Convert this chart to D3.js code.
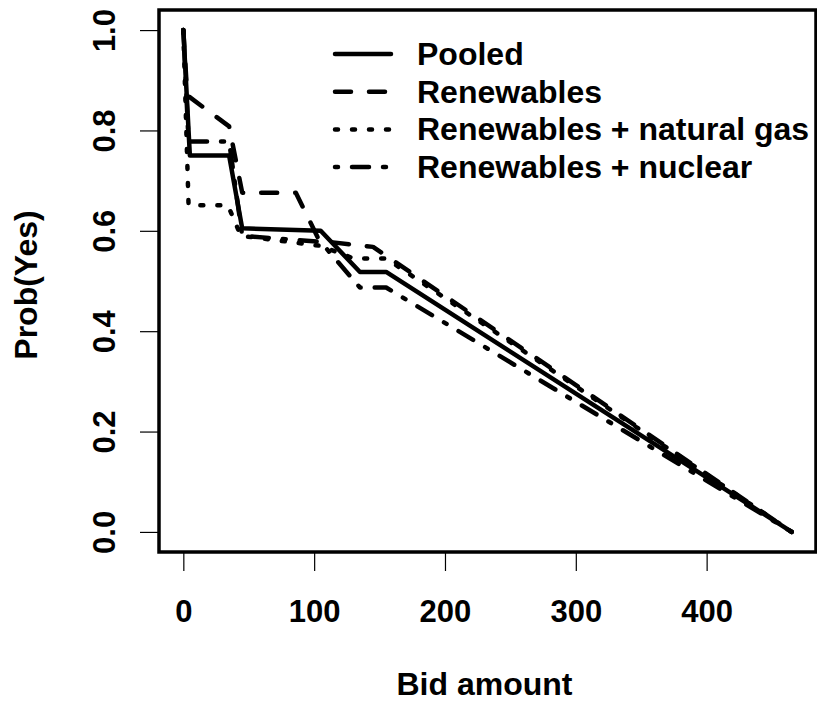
<!DOCTYPE html>
<html>
<head>
<meta charset="utf-8">
<script src="https://cdn.jsdelivr.net/npm/d3@7"></script>
<style>
  body { margin: 0; background: #fff; }
  svg text { font-family: "Liberation Sans", Arial, sans-serif; font-weight: bold; fill: #000; }
</style>
</head>
<body>
<div id="chart"></div>
<script>
// series: bid amount vs Prob(Yes)
const pooledBid = [0, 5, 35, 45, 105, 135, 155, 465];
const pooledProb = [1, 0.75, 0.75, 0.605, 0.60, 0.518, 0.518, 0];

const renewBid = [0, 3, 35, 45, 86, 104, 145, 465];
const renewProb = [1, 0.87, 0.808, 0.676, 0.676, 0.58, 0.568, 0];

const gasBid = [0, 4, 34, 44, 105, 130, 155, 465];
const gasProb = [1, 0.651, 0.651, 0.59, 0.57, 0.545, 0.545, 0];

const nuclearBid = [0, 4, 35, 45, 105, 135, 155, 465];
const nuclearProb = [1, 0.778, 0.778, 0.59, 0.578, 0.487, 0.487, 0];

const seriesNames = ["Pooled", "Renewables", "Renewables + natural gas", "Renewables + nuclear"];
const xTicks = [0, 100, 200, 300, 400];
const yTicks = [0, 0.2, 0.4, 0.6, 0.8, 1.0];

const width = 817, height = 702;
const box = { left: 159, top: 10, right: 816, bottom: 552 };

// R style 4% padding around the data range
const xlim = [0, 465], ylim = [0, 1];
const xpad = (xlim[1] - xlim[0]) * 0.04, ypad = (ylim[1] - ylim[0]) * 0.04;

const x = d3.scaleLinear().domain([xlim[0] - xpad, xlim[1] + xpad]).range([box.left, box.right]);
const y = d3.scaleLinear().domain([ylim[0] - ypad, ylim[1] + ypad]).range([box.bottom, box.top]);

const svg = d3.select("#chart").append("svg")
    .attr("width", width)
    .attr("height", height);

const lw = 4.5;
const dashes = [null, "16,18", "3,14", "3,14,17,14"];
const series = [
    { bid: pooledBid, prob: pooledProb },
    { bid: renewBid, prob: renewProb },
    { bid: gasBid, prob: gasProb },
    { bid: nuclearBid, prob: nuclearProb }
].map((s, i) => ({ name: seriesNames[i], dash: dashes[i], pts: s.bid.map((b, j) => [b, s.prob[j]]) }));

const line = d3.line().x(d => x(d[0])).y(d => y(d[1]));

svg.append("g")
    .selectAll("path")
    .data(series)
    .enter().append("path")
    .attr("d", d => line(d.pts))
    .attr("fill", "none")
    .attr("stroke", "#000")
    .attr("stroke-width", lw)
    .attr("stroke-linecap", "round")
    .attr("stroke-linejoin", "round")
    .attr("stroke-dasharray", d => d.dash);

// plot frame
svg.append("rect")
    .attr("x", box.left)
    .attr("y", box.top)
    .attr("width", box.right - box.left)
    .attr("height", box.bottom - box.top)
    .attr("fill", "none")
    .attr("stroke", "#000")
    .attr("stroke-width", 3.5);

// axes, ticks sit outside the frame
const tickLen = 18;
const xAxis = svg.append("g")
    .attr("transform", "translate(0," + (box.bottom + 1) + ")")
    .call(d3.axisBottom(x).tickValues(xTicks).tickSize(tickLen).tickFormat(d3.format("d")));
xAxis.select(".domain").remove();
xAxis.selectAll(".tick line").attr("stroke", "#000").attr("stroke-width", 1.2);
xAxis.selectAll(".tick text").attr("font-size", 31).attr("dy", 0).attr("y", 69);

const yAxis = svg.append("g")
    .attr("transform", "translate(" + (box.left - 1) + ",0)")
    .call(d3.axisLeft(y).tickValues(yTicks).tickSize(tickLen).tickFormat(d3.format(".1f")));
yAxis.select(".domain").remove();
yAxis.selectAll(".tick line").attr("stroke", "#000").attr("stroke-width", 1.2);
yAxis.selectAll(".tick text")
    .attr("font-size", 31)
    .attr("x", null).attr("dy", null)
    .attr("text-anchor", "middle")
    .attr("transform", "translate(-43,0) rotate(-90)");

// axis titles
svg.append("text")
    .attr("x", (box.left + box.right) / 2 - 3)
    .attr("y", 695)
    .attr("text-anchor", "middle")
    .attr("font-size", 32)
    .text("Bid amount");

svg.append("text")
    .attr("transform", "translate(37," + ((box.top + box.bottom) / 2 + 4) + ") rotate(-90)")
    .attr("text-anchor", "middle")
    .attr("font-size", 32)
    .text("Prob(Yes)");

// legend, no box
const legend = svg.append("g").selectAll("g")
    .data(series)
    .enter().append("g")
    .attr("transform", (d, i) => "translate(0," + (54 + i * 37.7) + ")");

legend.append("line")
    .attr("x1", 335).attr("x2", 391)
    .attr("y1", 0).attr("y2", 0)
    .attr("stroke", "#000")
    .attr("stroke-width", lw)
    .attr("stroke-linecap", "round")
    .attr("stroke-dasharray", d => d.dash);

legend.append("text")
    .attr("x", 417)
    .attr("y", 11)
    .attr("font-size", 32)
    .text(d => d.name);
</script>
</body>
</html>
